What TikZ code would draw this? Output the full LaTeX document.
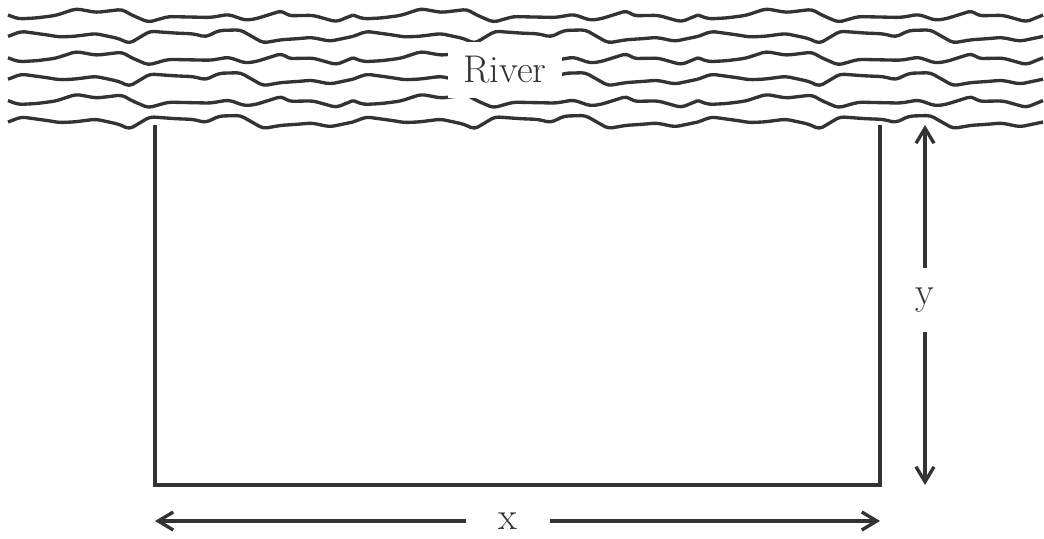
\documentclass[tikz,border=0pt]{standalone}
\usetikzlibrary{decorations.pathmorphing,arrows.meta}
\definecolor{ink}{HTML}{333333}

\begin{document}
\begin{tikzpicture}[line width=1.9pt, draw=ink, text=ink,
    >={Straight Barb[length=3mm,width=3.6mm]},
    font=\fontsize{22}{26}\selectfont,
    wave/.style={decorate, rounded corners=0.08cm,
      decoration={random steps, segment length=0.36cm, amplitude=0.15cm}}]
  \useasboundingbox (0,0) rectangle (20.88,10.76);
  % river: six rows, each of three equal pieces
  \foreach \r in {0,...,5}{
    \pgfmathsetmacro{\ry}{10.46-0.428*\r}
    \pgfmathtruncatemacro{\sd}{mod(\r,2)==0 ? 23 : 58}
    \foreach \s in {0,1,2}{
      \pgfmathsetseed{\sd}
      \draw[wave] ({0.16+6.9*\s},\ry) -- ({7.06+6.9*\s},\ry);
    }
  }
  \node[fill=white, inner xsep=9pt, inner ysep=8pt] (river) at (10.1,9.36) {River};
  % field
  \coordinate (tl) at (3.1,8.26);
  \coordinate (bl) at (3.1,1.06);
  \coordinate (br) at (17.6,1.06);
  \coordinate (tr) at (17.6,8.26);
  \draw (tl) -- (bl) -- (br) -- (tr);
  % dimensions
  \coordinate (xa) at (3.1,0.34);
  \coordinate (xb) at (17.6,0.34);
  \node[inner xsep=0.62cm] (xlab) at (10.16,0.34) {x};
  \draw[->] (xlab) -- (xa);
  \draw[->] (xlab) -- (xb);
  \coordinate (ya) at (18.5,8.26);
  \coordinate (yb) at (18.5,1.06);
  \node[inner ysep=0.36cm] (ylab) at (18.5,4.76) {y};
  \draw[->] (ylab) -- (ya);
  \draw[->] (ylab) -- (yb);
\end{tikzpicture}
\end{document}
